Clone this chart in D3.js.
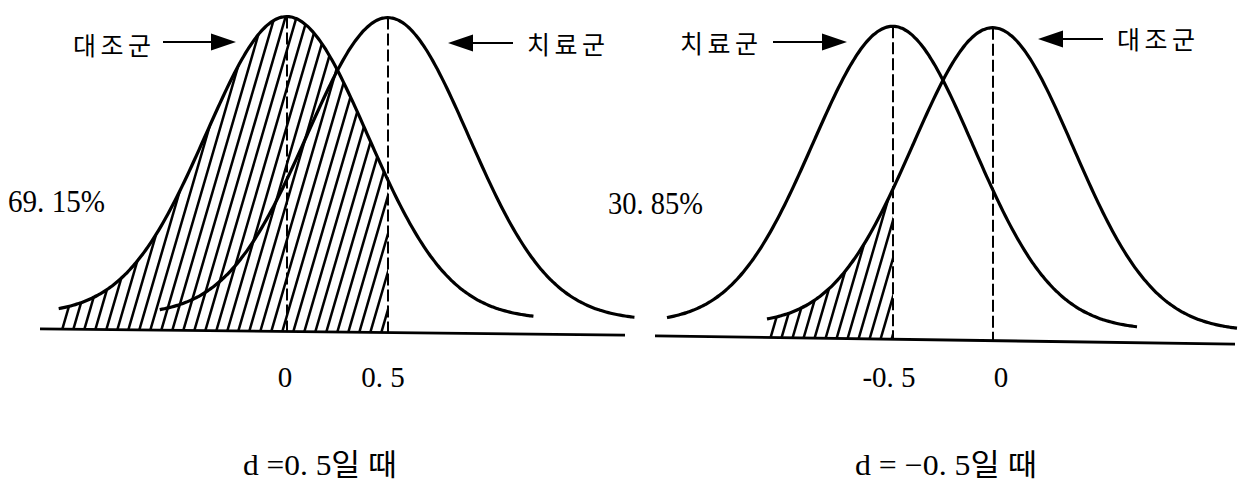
<!DOCTYPE html>
<html><head><meta charset="utf-8">
<script src="https://cdn.jsdelivr.net/npm/d3@7"></script>
<style>body{margin:0;background:#fff}</style>
</head><body>
<svg id="chart" width="1244" height="484" xmlns="http://www.w3.org/2000/svg"></svg>
<script>
// ---------- data ----------
const groupNames = ["대조군", "치료군"];            // control, treatment
const meansPanel1 = [0, 0.5];                      // d = 0.5  : control, treatment
const meansPanel2 = [0, -0.5];                     // d = -0.5 : control, treatment
const curveSD = 0.4;                               // spread of the drawn curves (d units)
const curveFrom = -1.13, curveTo = 1.22;           // drawn extent of each curve, relative to its mean
const shadeUpTo = [0.5, -0.5];                     // hatched part of the control curve lies below this value
const shadedPercent = ["69. 15%", "30. 85%"];
const tickValues1 = [0, 0.5],  tickLabels1 = ["0", "0. 5"];
const tickValues2 = [-0.5, 0], tickLabels2 = ["-0. 5", "0"];
const titles = ["d =0. 5일 때", "d = −0. 5일 때"];

// ---------- layout ----------
const svg = d3.select("#chart");
const FONT = "'Liberation Serif','Noto Sans CJK KR',serif";
const KFONT = "'Noto Sans CJK KR','Noto Sans',sans-serif";

const panels = [
  { means: meansPanel1, shadeTo: shadeUpTo[0], ticks: tickValues1, tickLabels: tickLabels1,
    tickDx: [-2, -5], xDom: [0, 0.5], xRange: [287, 388], yBase: 317, yPeak: 17,
    axis: [40, 625], axisY: 332, skew: 0.6, skewCx: 332,
    labels: [ {g: 0, x: 73, y: 44, a1: 163, a2: 236, ay: 42},
              {g: 1, x: 527, y: 43, a1: 513, a2: 448, ay: 43} ],
    pct: shadedPercent[0], pctX: 8, pctY: 212, pctLen: 97,
    title: titles[0], titleX: 320, titleLen: 154 },
  { means: meansPanel2, shadeTo: shadeUpTo[1], ticks: tickValues2, tickLabels: tickLabels2,
    tickDx: [-4, 8], xDom: [-0.5, 0], xRange: [893, 993], yBase: 327, yPeak: 27,
    axis: [655, 1235], axisY: 340, skew: 0.8, skewCx: 945,
    labels: [ {g: 1, x: 680, y: 42, a1: 773, a2: 847, ay: 42},
              {g: 0, x: 1117, y: 38, a1: 1103, a2: 1038, ay: 39} ],
    pct: shadedPercent[1], pctX: 608, pctY: 214, pctLen: 95,
    title: titles[1], titleX: 946, titleLen: 182 }
];

const pdfRatio = (v, m) => Math.exp(-0.5 * Math.pow((v - m) / curveSD, 2));

panels.forEach((p, pi) => {
  const x = d3.scaleLinear().domain(p.xDom).range(p.xRange);
  const y = d3.scaleLinear().domain([0, 1]).range([p.yBase, p.yPeak]);
  const g = svg.append("g")
    .attr("transform", `translate(${p.skewCx},0) skewY(${p.skew}) translate(${-p.skewCx},0)`);

  const line = d3.line().x(d => x(d[0])).y(d => y(d[1])).curve(d3.curveBasis);
  const sample = (m, from, to) => d3.range(0, 201).map(i => {
    const v = from + (to - from) * i / 200;
    return [v, pdfRatio(v, m)];
  });

  // hatched region under the control curve
  const cm = p.means[0];
  const hatchPts = sample(cm, cm + curveFrom, p.shadeTo);
  const clipId = "hatch" + pi;
  const areaPath = d3.area().x(d => x(d[0])).y0(p.axisY).y1(d => y(d[1]));
  g.append("clipPath").attr("id", clipId).append("path").attr("d", areaPath(hatchPts));
  const hx0 = x(cm + curveFrom) - 140, hx1 = x(p.shadeTo) + 20;
  const slant = 0.29;
  g.append("g").attr("clip-path", `url(#${clipId})`)
    .selectAll("line").data(d3.range(hx0, hx1, 11)).join("line")
    .attr("x1", d => d).attr("y1", p.axisY + 2)
    .attr("x2", d => d + slant * (p.axisY + 2)).attr("y2", 0)
    .attr("stroke", "#000").attr("stroke-width", 2.5);

  // dashed mean lines
  g.selectAll("line.mean").data(p.means).join("line").attr("class", "mean")
    .attr("x1", d => x(d)).attr("x2", d => x(d))
    .attr("y1", y(1)).attr("y2", p.axisY)
    .attr("stroke", "#000").attr("stroke-width", 2).attr("stroke-dasharray", "12,4");

  // curves
  g.selectAll("path.curve").data(p.means).join("path").attr("class", "curve")
    .attr("d", m => line(sample(m, m + curveFrom, m + curveTo)))
    .attr("fill", "none").attr("stroke", "#000").attr("stroke-width", 3.2);

  // baseline
  g.append("line").attr("x1", p.axis[0]).attr("x2", p.axis[1])
    .attr("y1", p.axisY).attr("y2", p.axisY)
    .attr("stroke", "#000").attr("stroke-width", 2.8);

  // tick labels
  svg.selectAll(null).data(p.ticks).join("text")
    .attr("x", (d, i) => x(d) + p.tickDx[i]).attr("y", 387)
    .attr("text-anchor", "middle").attr("font-family", FONT).attr("font-size", 29)
    .attr("fill", "#000")
    .text((d, i) => p.tickLabels[i]);

  // group labels with arrows
  p.labels.forEach(l => {
    svg.append("text").attr("x", l.x).attr("y", l.y)
      .attr("dominant-baseline", "central").attr("font-family", KFONT)
      .attr("font-size", 25).attr("textLength", 78).attr("lengthAdjust", "spacing")
      .attr("fill", "#000").text(groupNames[l.g]);
    const dir = Math.sign(l.a2 - l.a1);
    const hb = l.a2 - dir * 25;
    svg.append("line").attr("x1", l.a1).attr("x2", hb).attr("y1", l.ay).attr("y2", l.ay)
      .attr("stroke", "#000").attr("stroke-width", 2);
    svg.append("path")
      .attr("d", `M${l.a2},${l.ay} L${hb},${l.ay - 8.5} L${hb},${l.ay + 8.5} Z`)
      .attr("fill", "#000");
  });

  // percentage
  svg.append("text").attr("x", p.pctX).attr("y", p.pctY)
    .attr("font-family", FONT).attr("font-size", 31)
    .attr("textLength", p.pctLen).attr("lengthAdjust", "spacingAndGlyphs")
    .attr("fill", "#000").text(p.pct);

  // title
  svg.append("text").attr("x", p.titleX).attr("y", 475)
    .attr("text-anchor", "middle").attr("font-family", FONT).attr("font-size", 30)
    .attr("textLength", p.titleLen).attr("lengthAdjust", "spacingAndGlyphs")
    .attr("fill", "#000").text(p.title);
});
</script>
</body></html>
